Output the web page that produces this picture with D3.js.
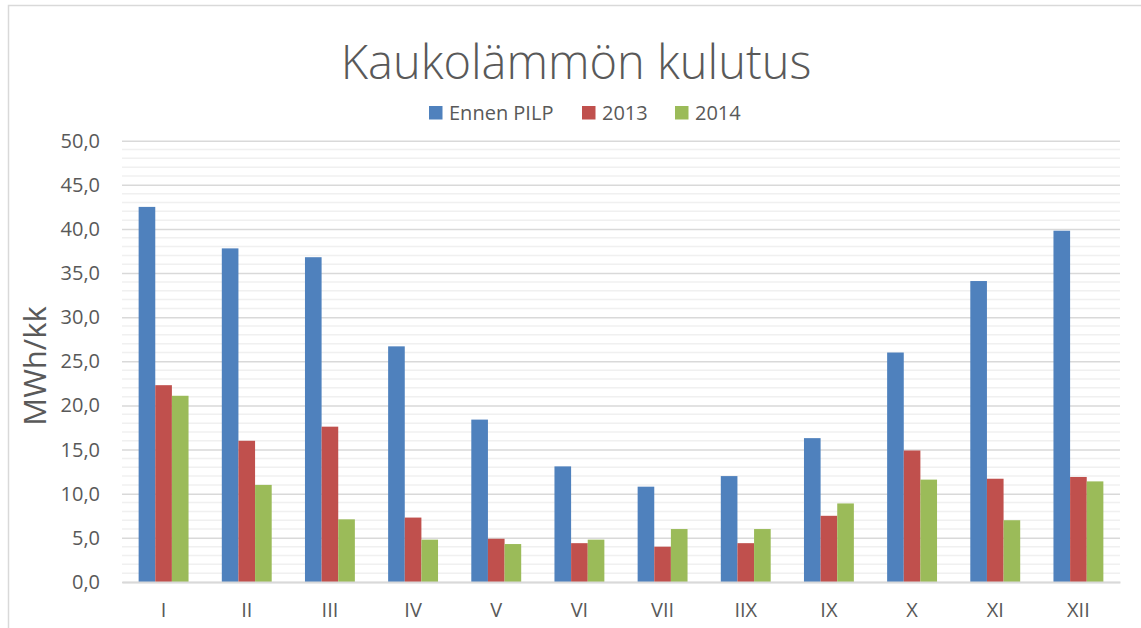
<!DOCTYPE html>
<html>
<head>
<meta charset="utf-8">
<script src="https://cdn.jsdelivr.net/npm/d3@7"></script>
<style>
  body { margin: 0; background: #fff; }
  svg { display: block; font-family: "Open Sans", "Liberation Sans", sans-serif; }
</style>
</head>
<body>
<div id="chart"></div>
<script>
// months (Roman numerals as in the source)
var months = ["I", "II", "III", "IV", "V", "VI", "VII", "IIX", "IX", "X", "XI", "XII"];
var seriesNames = ["Ennen PILP", "2013", "2014"];
var ennenPilp = [42.5, 37.8, 36.8, 26.7, 18.4, 13.1, 10.8, 12.0, 16.3, 26.0, 34.1, 39.8];
var v2013 = [22.3, 16.0, 17.6, 7.3, 4.9, 4.4, 4.0, 4.4, 7.5, 14.9, 11.7, 11.9];
var v2014 = [21.1, 11.0, 7.1, 4.8, 4.3, 4.8, 6.0, 6.0, 8.9, 11.6, 7.0, 11.4];
var yTicks = [0, 5, 10, 15, 20, 25, 30, 35, 40, 45, 50];

var W = 1141, H = 628;
var margin = {top: 140.7, right: 21, bottom: 46, left: 122};
var width = W - margin.left - margin.right,
    height = H - margin.top - margin.bottom;
var font = '"Open Sans", "Liberation Sans", sans-serif';

var svg = d3.select("#chart").append("svg")
  .attr("width", W).attr("height", H);

// chart border (runs past the window on right/bottom)
svg.append("rect")
  .attr("x", 8.5).attr("y", 5.5)
  .attr("width", W + 20).attr("height", H + 20)
  .attr("fill", "none").attr("stroke", "#d9d9d9").attr("stroke-width", 1.5);

var g = svg.append("g")
  .attr("transform", "translate(" + margin.left + "," + margin.top + ")");

var data = months.map(function (m, i) {
  return {month: m, values: [ennenPilp[i], v2013[i], v2014[i]]};
});

var x = d3.scaleBand().domain(months).range([0, width]).padding(0);
// gap width 200%: each bar = 1/5 of a band
var x1 = d3.scaleBand().domain(seriesNames).range([0, x.bandwidth()])
  .paddingInner(0).paddingOuter(1);
var y = d3.scaleLinear().domain([0, 50]).range([height, 0]);

var color = d3.scaleOrdinal().domain(seriesNames)
  .range(["#4f81bd", "#c0504d", "#9bbb59"]);

// minor gridlines
g.append("g")
  .selectAll("line")
  .data(d3.range(1, 50).filter(function (v) { return v % 5 !== 0; }))
  .join("line")
    .attr("x1", 0).attr("x2", width)
    .attr("y1", function (d) { return y(d); })
    .attr("y2", function (d) { return y(d); })
    .attr("stroke", "#f0f0f0").attr("stroke-width", 1.5);

// major gridlines + y axis labels
var yAxis = d3.axisLeft(y).tickValues(yTicks)
  .tickSize(-width).tickPadding(22)
  .tickFormat(function (d) { return d3.format(".1f")(d).replace(".", ","); });
var ya = g.append("g").call(yAxis).attr("font-family", font);
ya.select(".domain").remove();
ya.selectAll(".tick line").attr("stroke", "#d9d9d9").attr("stroke-width", 1.5);
ya.selectAll(".tick text")
  .attr("fill", "#595959").style("font-size", "20px");

// bars
g.append("g")
  .selectAll("g")
  .data(data)
  .join("g")
    .attr("transform", function (d) { return "translate(" + x(d.month) + ",0)"; })
  .selectAll("rect")
  .data(function (d) { return d.values.map(function (v, i) { return {key: seriesNames[i], value: v}; }); })
  .join("rect")
    .attr("x", function (d) { return x1(d.key); })
    .attr("y", function (d) { return y(d.value); })
    .attr("width", x1.bandwidth())
    .attr("height", function (d) { return height - y(d.value); })
    .attr("fill", function (d) { return color(d.key); });

// x axis
var xa = g.append("g")
  .attr("transform", "translate(0," + height + ")")
  .call(d3.axisBottom(x).tickSize(0).tickPadding(21))
  .attr("font-family", font);
xa.select(".domain").attr("stroke", "#d9d9d9").attr("stroke-width", 2);
xa.selectAll(".tick text").attr("fill", "#595959").style("font-size", "20px");

// title
svg.append("text")
  .attr("x", 576).attr("y", 79)
  .attr("text-anchor", "middle")
  .attr("fill", "#595959")
  .style("font-size", "47px").style("font-weight", 300)
  .text("Kaukolämmön kulutus");

// y axis title
svg.append("text")
  .attr("transform", "translate(46,366) rotate(-90)")
  .attr("text-anchor", "middle")
  .attr("fill", "#595959")
  .style("font-size", "31px")
  .text("MWh/kk");

// legend
var legendX = [429, 582, 675];
var legend = svg.append("g").selectAll("g")
  .data(seriesNames)
  .join("g")
    .attr("transform", function (d, i) { return "translate(" + legendX[i] + ",106)"; });
legend.append("rect")
  .attr("width", 13.5).attr("height", 13.5)
  .attr("fill", function (d) { return color(d); });
legend.append("text")
  .attr("x", 20).attr("y", 7)
  .attr("dy", "0.35em")
  .attr("fill", "#595959")
  .style("font-size", "20px")
  .text(function (d) { return d; });
</script>
</body>
</html>
